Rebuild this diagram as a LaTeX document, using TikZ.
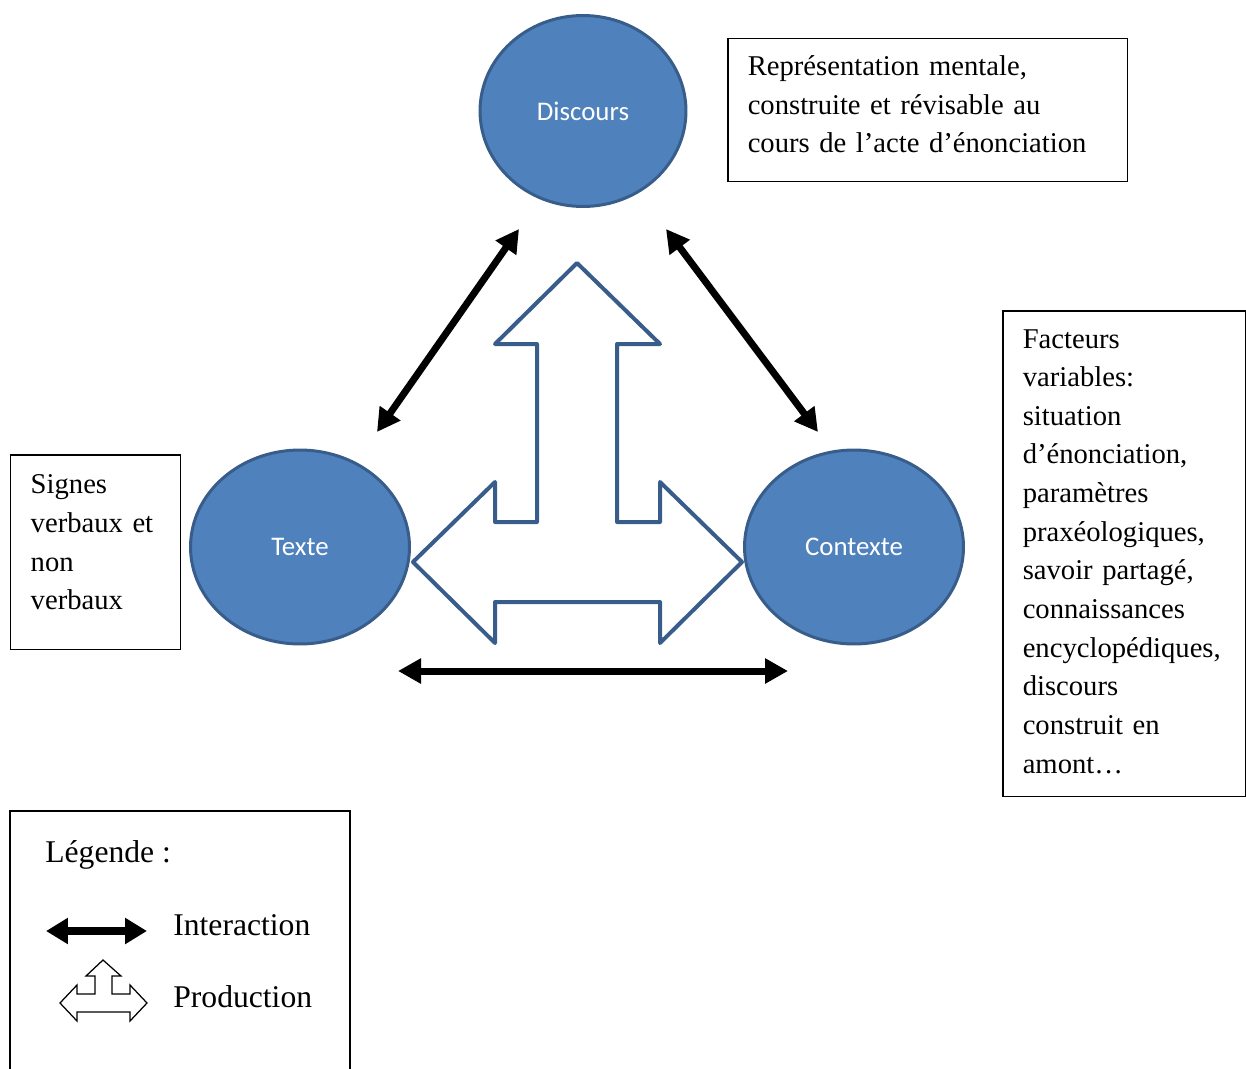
\documentclass[tikz,border=0pt]{standalone}
\usepackage{fontspec}
\setmainfont{Liberation Serif}
\newfontfamily\calibrifont{Carlito}
\usetikzlibrary{shapes.geometric,arrows.meta}
\definecolor{ovalfill}{RGB}{79,129,189}
\definecolor{ovalline}{RGB}{56,93,138}
\begin{document}
\begin{tikzpicture}
		[	x=0.02cm,y=-0.02cm,
		oval/.style={ellipse,draw=ovalline,fill=ovalfill,line width=0.06cm,inner sep=0pt,text=white,font=\calibrifont\fontsize{15.3}{18}\selectfont},
		textbox/.style={rectangle,draw=black,line width=0.03cm,anchor=north west,align=left,inner xsep=0.4cm,inner ysep=0pt,font=\fontsize{16.3}{22}\selectfont},
		inter/.style={line width=0.14cm,{Triangle[length=0.46cm,width=0.48cm]}-{Triangle[length=0.46cm,width=0.48cm]}},
		prod/.style={draw=ovalline,line width=0.08cm,line join=round},
		legend/.style={inner sep=0pt,anchor=base west,font=\fontsize{18}{22}\selectfont}
		]
\useasboundingbox (0,0) rectangle (1246,1068);
		\node[oval,minimum width=4.12cm,minimum height=3.82cm] (discours) at (583,111){Discours};
		\node[oval,minimum width=4.38cm,minimum height=3.88cm] (texte) at (300,547){Texte};
		\node[oval,minimum width=4.38cm,minimum height=3.88cm] (contexte) at (854,547){Contexte};
\node[textbox,text width=7.2cm,minimum height=2.86cm,text depth=50.8pt] (repr) at (727,38){Représentation mentale,\\construite et révisable au\\cours de l’acte d’énonciation};
\node[textbox,text width=2.6cm,minimum height=3.9cm,text depth=77.3pt] (signes) at (10,454){Signes\\verbaux et\\non\\verbaux};
\node[textbox,text width=4.06cm,minimum height=9.72cm,text depth=244.8pt] (facteurs) at (1002,310){Facteurs\\variables:\\situation\\d’énonciation,\\paramètres\\praxéologiques,\\savoir partagé,\\connaissances\\encyclopédiques,\\discours\\construit en\\amont…};
		% interaction arrows
		\coordinate (tx-up) at (377,432);
		\coordinate (ds-left) at (519,229);
		\coordinate (ds-right) at (666,229);
		\coordinate (cx-up) at (818,432);
		\coordinate (tx-low) at (398,671);
		\coordinate (cx-low) at (788,671);
		\draw[inter] (tx-up) -- (ds-left);
		\draw[inter] (ds-right) -- (cx-up);
		\draw[inter] (tx-low) -- (cx-low);
		% production arrow
		\draw[prod] (577,263) -- (660,344) -- (617,344) -- (617,522) -- (660,522) -- (660,482) -- (742,562) -- (660,643) -- (660,602) -- (495,602) -- (495,643) -- (413,562) -- (495,482) -- (495,522) -- (537,522) -- (537,344) -- (495,344) -- cycle;
		% legend
		\draw[line width=0.03cm] (10,1080) |- (350,811) -- (350,1080);
\node[legend] (leg) at (45,862){Légende :};
		\coordinate (li-a) at (46,931);
		\coordinate (li-b) at (147,931);
		\draw[line width=0.16cm,{Triangle[length=0.44cm,width=0.5cm]}-{Triangle[length=0.44cm,width=0.5cm]}] (li-a) -- (li-b);
\node[legend] (li-txt) at (173,935){Interaction};
		\draw[line width=0.025cm] (103,960) -- (121,976) -- (112,976) -- (112,994) -- (130,994) -- (130,985) -- (147,1003) -- (130,1021) -- (130,1012) -- (77,1012) -- (77,1021) -- (60,1003) -- (77,985) -- (77,994) -- (95,994) -- (95,976) -- (86,976) -- cycle;
\node[legend] (lp-txt) at (173,1007){Production};
\end{tikzpicture}
\end{document}
